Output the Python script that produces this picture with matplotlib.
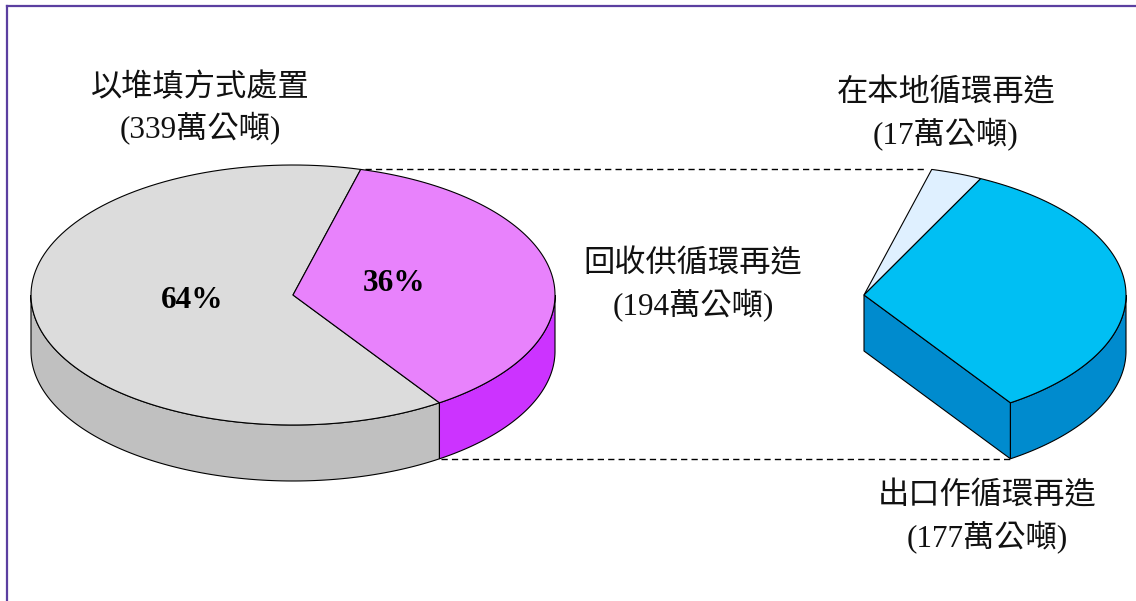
import numpy as np
import matplotlib.pyplot as plt
from matplotlib.patches import Polygon

# data
categories = ['以堆填方式處置', '回收供循環再造']
tonnes = [339, 194]
sub_categories = ['在本地循環再造', '出口作循環再造']
sub_tonnes = [17, 177]
unit = '萬公噸'

main_colors = ['#DCDCDC', '#E882FC']
main_sides = ['#C0C0C0', '#CC33FF']
sub_colors = ['#DFF0FF', '#00BFF3']
sub_sides = ['#B8D8F0', '#008BCE']

FONT = ['Liberation Serif', 'Noto Sans CJK TC']

# geometry in pixels
RX, RY, DEPTH = 262, 130, 56
LEFT_C = (293, 295)
RIGHT_C = (864, 295)
SPLIT_MID = 9.5  # degrees, centre of the split-out wedge


def ell(c, t, dy=0):
    t = np.radians(t)
    return c[0] + RX * np.cos(t), c[1] - RY * np.sin(t) + dy


def arc(c, t1, t2, dy=0, n=120):
    ts = np.linspace(t1, t2, n)
    x, y = ell(c, ts, dy)
    return np.column_stack([x, y])


def top_face(ax, c, t1, t2, color):
    pts = np.vstack([[c], arc(c, t1, t2)])
    ax.add_patch(Polygon(pts, closed=True, fc=color, ec='black', lw=0.8, zorder=3))


def side_face(ax, c, t1, t2, color):
    # visible front part: angles within [180, 360] (mod 360)
    for lo, hi in [(180, 360), (540, 720), (-180, 0)]:
        a, b = max(t1, lo), min(t2, hi)
        if b > a:
            pts = np.vstack([arc(c, a, b), arc(c, b, a, DEPTH)])
            ax.add_patch(Polygon(pts, closed=True, fc=color, ec='black', lw=0.8, zorder=2))


fig = plt.figure(figsize=(11.36, 6.01), dpi=100)
ax = fig.add_axes([0, 0, 1, 1])
ax.set_xlim(0, 1136)
ax.set_ylim(601, 0)
ax.axis('off')

# main pie
total = sum(tonnes)
spans = [360 * v / total for v in tonnes]
split_lo = SPLIT_MID - spans[1] / 2 + 360
split_hi = SPLIT_MID + spans[1] / 2 + 360
bounds = [(split_hi - 360, split_lo), (split_lo, split_hi)]

for (t1, t2), col, side in zip(bounds, main_colors, main_sides):
    side_face(ax, LEFT_C, t1, t2, side)
for (t1, t2), col in zip(bounds, main_colors):
    top_face(ax, LEFT_C, t1, t2, col)

for (t1, t2), v in zip(bounds, tonnes):
    mid = np.radians((t1 + t2) / 2)
    x = LEFT_C[0] + 0.39 * RX * np.cos(mid)
    y = LEFT_C[1] - 0.39 * RY * np.sin(mid)
    ax.text(x, y - 3, f'{round(100 * v / total)}%', ha='center', va='center',
            fontsize=22.5, fontweight='bold', family='Liberation Serif', zorder=5)

# split-out sector (same angular range, broken down)
sub_total = sum(sub_tonnes)
sub_bounds = []
t = split_hi
for v in sub_tonnes:
    span = spans[1] * v / sub_total
    sub_bounds.append((t - span, t))
    t -= span

# radial face at lower edge
p_lo = ell(RIGHT_C, split_lo)
quad = [RIGHT_C, p_lo, (p_lo[0], p_lo[1] + DEPTH), (RIGHT_C[0], RIGHT_C[1] + DEPTH)]
ax.add_patch(Polygon(quad, closed=True, fc=sub_sides[1], ec='black', lw=0.8, zorder=2))
for (t1, t2), side in zip(sub_bounds, sub_sides):
    side_face(ax, RIGHT_C, t1, t2, side)
for (t1, t2), col in zip(sub_bounds, sub_colors):
    top_face(ax, RIGHT_C, t1, t2, col)

# connector lines
a = ell(LEFT_C, split_hi)
b = ell(RIGHT_C, split_hi)
ax.plot([a[0] + 4, b[0] - 6], [a[1], a[1]], color='black', lw=1, ls=(0, (4.5, 3)), zorder=1)
a = ell(LEFT_C, split_lo, DEPTH)
b = ell(RIGHT_C, split_lo, DEPTH)
ax.plot([a[0] + 2, b[0]], [a[1], b[1]], color='black', lw=1, ls=(0, (4.5, 3)), zorder=1)

# labels
label_pos = {
    categories[0]: (200, 88, tonnes[0]),
    categories[1]: (693, 265, tonnes[1]),
    sub_categories[0]: (946, 94, sub_tonnes[0]),
    sub_categories[1]: (987, 497, sub_tonnes[1]),
}
for name, (x, y, v) in label_pos.items():
    ax.text(x, y, name, ha='center', va='center', fontsize=22.5, family=FONT,
            color='#111111', zorder=5)
    ax.text(x, y + 41, f'({v}{unit})', ha='center', va='center', fontsize=22.5,
            family=FONT, color='#111111', zorder=5)

# frame
ax.plot([7, 1136], [6, 6], color='#5B3FA0', lw=1.6, zorder=6, clip_on=False)
ax.plot([7, 7], [6, 601], color='#5B3FA0', lw=1.6, zorder=6, clip_on=False)

fig.savefig('out.png', dpi=100)
